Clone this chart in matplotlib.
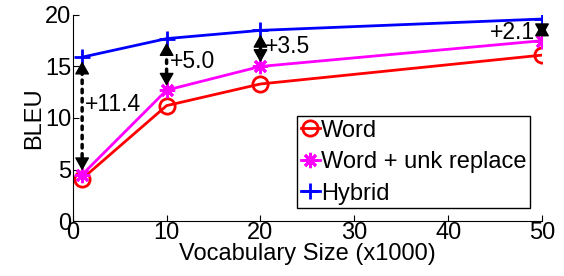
import matplotlib
matplotlib.use("Agg")
import matplotlib.pyplot as plt

# vocabulary size (x1000) and BLEU scores
vocab = [1, 10, 20, 50]
bleu_word = [4.1, 11.2, 13.3, 16.1]
bleu_unk = [4.5, 12.7, 15.0, 17.5]
bleu_hybrid = [15.9, 17.7, 18.5, 19.6]
gain_labels = ["+11.4", "+5.0", "+3.5", "+2.1"]
gain_text_x = [1.3, 10.3, 20.5, 49.3]
gain_text_y = [11.3, 15.5, 16.9, 18.3]

plt.rcParams["font.family"] = ["Liberation Sans", "DejaVu Sans"]

fig = plt.figure(figsize=(5.64, 2.76), dpi=100)
ax = fig.add_axes([0.129, 0.199, 0.832, 0.747])

ax.plot(vocab, bleu_word, color="red", lw=2, marker="o", ms=11,
        mfc="none", mew=2, label="Word")
ax.plot(vocab, bleu_unk, color="magenta", lw=2, marker=(8, 2, 0), ms=11,
        mew=2, label="Word + unk replace")
ax.plot(vocab, bleu_hybrid, color="blue", lw=2, marker="+", ms=12,
        mew=2, label="Hybrid")

# gain arrows between unk-replace and hybrid: dotted shaft + solid heads
head = dict(arrowstyle="-|>,head_length=0.8,head_width=0.45", color="black",
            lw=1, shrinkA=0, shrinkB=3, mutation_scale=10)
for x, lo, hi, lab, tx, ty in zip(vocab, bleu_unk, bleu_hybrid, gain_labels,
                                  gain_text_x, gain_text_y):
    ax.annotate("", xy=(x, hi), xytext=(x, lo),
                arrowprops=dict(arrowstyle="-", color="black", lw=2.5,
                                ls=":", shrinkA=6, shrinkB=6))
    ax.annotate("", xy=(x, hi), xytext=(0, -9), textcoords="offset points",
                arrowprops=head)
    ax.annotate("", xy=(x, lo), xytext=(0, 9), textcoords="offset points",
                arrowprops=head)
    ha = "right" if x == vocab[-1] else "left"
    ax.text(tx, ty, lab, fontsize=16.5, ha=ha, va="center")

ax.set_xlim(0, 50)
ax.set_ylim(0, 20)
ax.set_xticks([0, 10, 20, 30, 40, 50])
ax.set_yticks([0, 5, 10, 15, 20])
ax.tick_params(direction="in", labelsize=17, length=4, pad=1)
ax.spines["top"].set_visible(False)
ax.spines["right"].set_visible(False)
ax.set_xlabel("Vocabulary Size (x1000)", fontsize=17, labelpad=-1)
ax.set_ylabel("BLEU", fontsize=17, labelpad=0)

leg = ax.legend(loc="lower right", bbox_to_anchor=(0.974, 0.063),
                fontsize=17, handlelength=0.8, handletextpad=0.05,
                borderpad=0.15, labelspacing=0.4, borderaxespad=0,
                fancybox=False, edgecolor="black", framealpha=1)
leg.get_frame().set_linewidth(1)

fig.savefig("out.png", dpi=100)
